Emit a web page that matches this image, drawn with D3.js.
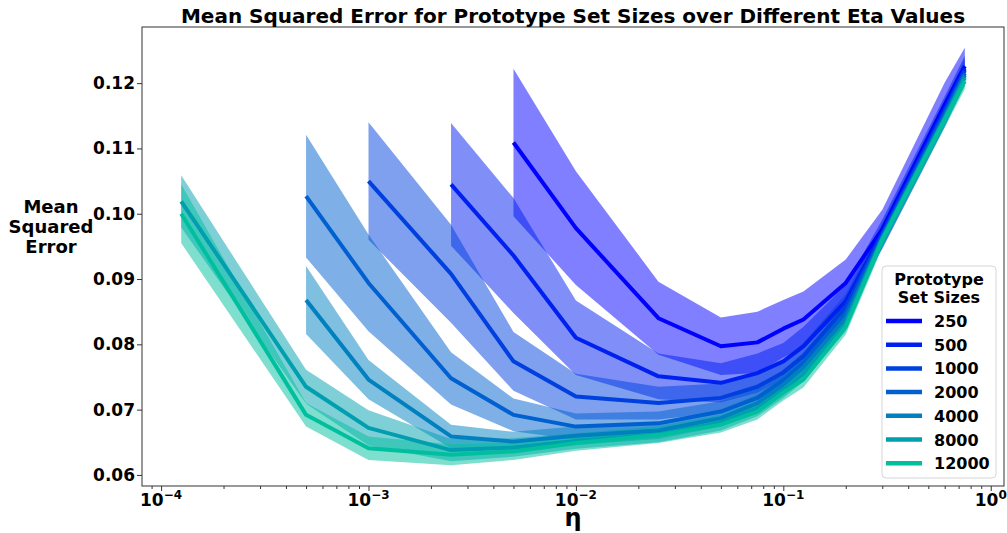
<!DOCTYPE html>
<html>
<head>
<meta charset="utf-8">
<script src="https://cdn.jsdelivr.net/npm/d3@7"></script>
<style>
  body { margin: 0; background: #fff; }
  text { font-family: 'DejaVu Sans', sans-serif; font-weight: bold; }
</style>
</head>
<body>
<div id="chart"></div>
<script>

// eta values shared by all runs; each set size starts at a different eta
var etas = [1.25e-4, 5e-4, 1e-3, 2.5e-3, 5e-3, 1e-2, 2.5e-2, 5e-2, 7.5e-2, 0.1, 0.125, 0.2, 0.3, 0.6, 0.75];
var setSizes = [250, 500, 1000, 2000, 4000, 8000, 12000];
var firstEta = [4, 3, 2, 1, 1, 0, 0];

var mse250 = [0.1109, 0.0978, 0.0840, 0.0797, 0.0803, 0.0824, 0.0838, 0.0894, 0.0976, 0.1167, 0.1226];
var std250 = [0.0113, 0.0087, 0.0056, 0.0044, 0.0047, 0.0044, 0.0043, 0.0036, 0.0030, 0.0034, 0.0028];
var mse500 = [0.1045, 0.0936, 0.0810, 0.0751, 0.0741, 0.0756, 0.0774, 0.0797, 0.0866, 0.0971, 0.1160, 0.1222];
var std500 = [0.0094, 0.0088, 0.0057, 0.0035, 0.0030, 0.0030, 0.0028, 0.0030, 0.0025, 0.0020, 0.0020, 0.0020];
var mse1000 = [0.1050, 0.0908, 0.0774, 0.0720, 0.0710, 0.0718, 0.0735, 0.0757, 0.0782, 0.0857, 0.0968, 0.1156, 0.1219];
var std1000 = [0.0090, 0.0075, 0.0045, 0.0035, 0.0025, 0.0022, 0.0020, 0.0020, 0.0020, 0.0020, 0.0018, 0.0018, 0.0018];
var mse2000 = [0.1027, 0.0894, 0.0748, 0.0692, 0.0674, 0.0679, 0.0697, 0.0718, 0.0745, 0.0772, 0.0848, 0.0965, 0.1152, 0.1215];
var std2000 = [0.0094, 0.0074, 0.0040, 0.0025, 0.0020, 0.0018, 0.0016, 0.0016, 0.0016, 0.0016, 0.0016, 0.0016, 0.0016, 0.0016];
var mse4000 = [0.0868, 0.0746, 0.0659, 0.0651, 0.0660, 0.0668, 0.0687, 0.0710, 0.0738, 0.0765, 0.0840, 0.0962, 0.1148, 0.1212];
var std4000 = [0.0052, 0.0030, 0.0018, 0.0015, 0.0014, 0.0013, 0.0013, 0.0013, 0.0013, 0.0013, 0.0013, 0.0013, 0.0013, 0.0013];
var mse8000 = [0.1019, 0.0735, 0.0672, 0.0638, 0.0642, 0.0652, 0.0662, 0.0680, 0.0702, 0.0730, 0.0755, 0.0832, 0.0962, 0.1146, 0.1208];
var std8000 = [0.0040, 0.0026, 0.0027, 0.0017, 0.0014, 0.0012, 0.0012, 0.0012, 0.0012, 0.0012, 0.0012, 0.0012, 0.0012, 0.0012, 0.0012];
var mse12000 = [0.1000, 0.0692, 0.0641, 0.0631, 0.0636, 0.0649, 0.0661, 0.0677, 0.0697, 0.0726, 0.0746, 0.0827, 0.0960, 0.1144, 0.1203];
var std12000 = [0.0045, 0.0018, 0.0018, 0.0016, 0.0013, 0.0012, 0.0012, 0.0012, 0.0012, 0.0012, 0.0012, 0.0012, 0.0012, 0.0012, 0.0012];

var xMajor = [1e-4, 1e-3, 1e-2, 1e-1, 1];
var xExponents = ['\u22124', '\u22123', '\u22122', '\u22121', '0'];
var yTicks = [0.06, 0.07, 0.08, 0.09, 0.10, 0.11, 0.12];

var allMse = [mse250, mse500, mse1000, mse2000, mse4000, mse8000, mse12000];
var allStd = [std250, std500, std1000, std2000, std4000, std8000, std12000];

// matplotlib "winter" colormap
function winter(t) { return d3.rgb(0, 255 * t, 255 * (1 - t / 2)).formatHex(); }

var series = setSizes.map((size, i) => ({
    size: size,
    color: winter(i / 8),
    points: allMse[i].map((m, j) => ({ eta: etas[firstEta[i] + j], mean: m, sd: allStd[i][j] }))
}));

var width = 1007, height = 533;
var plotLeft = 142, plotRight = 1004, plotTop = 27, plotBottom = 486;

var svg = d3.select('#chart').append('svg')
    .attr('width', width)
    .attr('height', height);

// 5% margins like matplotlib autoscale
var lx0 = Math.log10(d3.min(etas)), lx1 = Math.log10(d3.max(etas));
var lpad = (lx1 - lx0) * 0.05;
var lows = series.flatMap(s => s.points.map(p => p.mean - p.sd));
var highs = series.flatMap(s => s.points.map(p => p.mean + p.sd));
var y0 = d3.min(lows), y1 = d3.max(highs);
var ypad = (y1 - y0) * 0.05;

var x = d3.scaleLog().domain([Math.pow(10, lx0 - lpad), Math.pow(10, lx1 + lpad)]).range([plotLeft, plotRight]);
var y = d3.scaleLinear().domain([y0 - ypad, y1 + ypad]).range([plotBottom, plotTop]);

var plot = svg.append('g');

var area = d3.area()
    .x(d => x(d.eta))
    .y0(d => y(d.mean - d.sd))
    .y1(d => y(d.mean + d.sd));

var line = d3.line()
    .x(d => x(d.eta))
    .y(d => y(d.mean));

plot.selectAll('.band').data(series).enter()
    .append('path')
    .attr('class', 'band')
    .attr('d', d => area(d.points))
    .attr('fill', d => d.color)
    .attr('fill-opacity', 0.5);

plot.selectAll('.line').data(series).enter()
    .append('path')
    .attr('class', 'line')
    .attr('d', d => line(d.points))
    .attr('fill', 'none')
    .attr('stroke', d => d.color)
    .attr('stroke-width', 4)
    .attr('stroke-linejoin', 'round');

// axes
var minor = [];
for (var k = -5; k <= 0; k++) {
    for (var m = 2; m <= 9; m++) {
        var v = m * Math.pow(10, k);
        if (v > x.domain()[0] && v < x.domain()[1]) minor.push(v);
    }
}

var xAxis = svg.append('g').attr('transform', `translate(0,${plotBottom})`);
xAxis.call(d3.axisBottom(x).tickValues(xMajor).tickFormat('').tickSize(5));
xAxis.append('g').call(d3.axisBottom(x).tickValues(minor).tickFormat('').tickSize(3));
xAxis.selectAll('.domain').remove();
xAxis.selectAll('line').attr('stroke', '#333');

var xLabels = xAxis.selectAll('.xlab').data(xMajor).enter()
    .append('text')
    .attr('class', 'xlab')
    .attr('x', d => x(d))
    .attr('y', 20)
    .attr('text-anchor', 'middle')
    .attr('font-size', 17)
    .attr('fill', '#000');
xLabels.append('tspan').text('10');
xLabels.append('tspan').attr('font-size', 12).attr('dy', -7).text((d, i) => xExponents[i]);

var yAxis = svg.append('g').attr('transform', `translate(${plotLeft},0)`);
yAxis.call(d3.axisLeft(y).tickValues(yTicks).tickFormat(d3.format('.2f')).tickSize(5).tickPadding(2));
yAxis.selectAll('.domain').remove();
yAxis.selectAll('line').attr('stroke', '#333');
yAxis.selectAll('text')
    .attr('font-size', 17)
    .attr('font-family', 'DejaVu Sans')
    .attr('font-weight', 'bold')
    .attr('fill', '#000');

svg.append('rect')
    .attr('x', plotLeft).attr('y', plotTop)
    .attr('width', plotRight - plotLeft).attr('height', plotBottom - plotTop)
    .attr('fill', 'none')
    .attr('stroke', '#333')
    .attr('stroke-width', 1);

// titles
svg.append('text')
    .attr('x', (plotLeft + plotRight) / 2)
    .attr('y', 23)
    .attr('text-anchor', 'middle')
    .attr('font-size', 20)
    .text('Mean Squared Error for Prototype Set Sizes over Different Eta Values');

svg.append('text')
    .attr('x', (plotLeft + plotRight) / 2)
    .attr('y', 526)
    .attr('text-anchor', 'middle')
    .attr('font-size', 24)
    .text('\u03b7');

var yTitle = svg.append('text')
    .attr('text-anchor', 'middle')
    .attr('font-size', 18);
['Mean', 'Squared', 'Error'].forEach((w, i) => {
    yTitle.append('tspan').attr('x', 51).attr('y', 213 + i * 20).text(w);
});

// legend
var legend = svg.append('g').attr('transform', 'translate(882,266)');
legend.append('rect')
    .attr('width', 114).attr('height', 212)
    .attr('rx', 4)
    .attr('fill', '#fff').attr('fill-opacity', 0.8)
    .attr('stroke', '#d6d6d6');

legend.append('text').attr('x', 57).attr('y', 19).attr('text-anchor', 'middle').attr('font-size', 16).text('Prototype');
legend.append('text').attr('x', 57).attr('y', 37).attr('text-anchor', 'middle').attr('font-size', 16).text('Set Sizes');

var item = legend.selectAll('.item').data(series).enter()
    .append('g')
    .attr('class', 'item')
    .attr('transform', (d, i) => `translate(0,${55 + i * 23.7})`);
item.append('line')
    .attr('x1', 4).attr('x2', 40)
    .attr('stroke', d => d.color)
    .attr('stroke-width', 4.5);
item.append('text')
    .attr('x', 52).attr('y', 6)
    .attr('font-size', 16)
    .text(d => d.size);

</script>
</body>
</html>
